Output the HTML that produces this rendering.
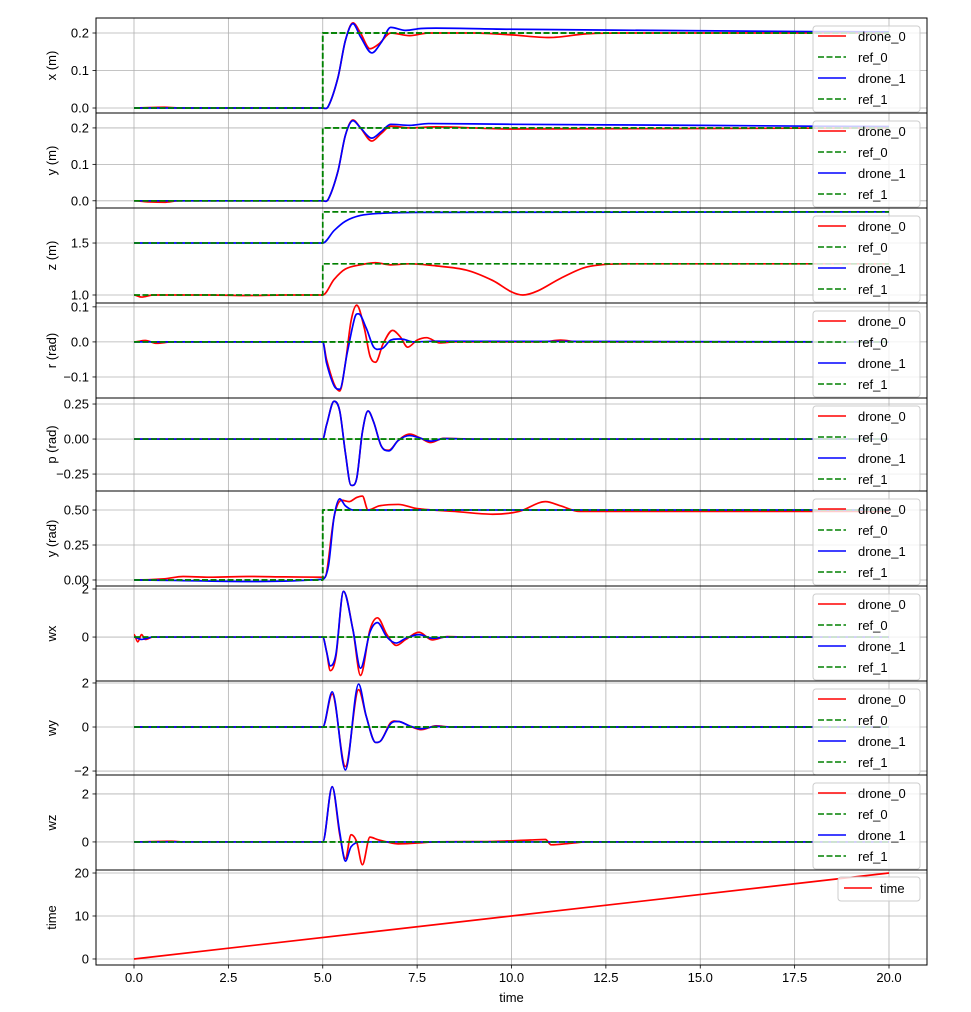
<!DOCTYPE html>
<html><head><meta charset="utf-8">
<style>
body{margin:0;background:#fff;}
svg text{font-family:"Liberation Sans",sans-serif;font-size:13px;fill:#000;}
</style></head>
<body>
<svg id="chart" width="971" height="1007" xmlns="http://www.w3.org/2000/svg"></svg>
<script>
// ---------- data ----------
const xTicks = [0,2.5,5,7.5,10,12.5,15,17.5,20];
const xTickLabels = ["0.0","2.5","5.0","7.5","10.0","12.5","15.0","17.5","20.0"];

const xDrone0 = [[0,0],[0.8,0.002],[1.2,0],[5,0],[5.15,0.005],[5.4,0.08],[5.6,0.18],[5.8,0.227],[6.0,0.2],[6.25,0.158],[6.5,0.172],[6.8,0.2],[7.3,0.193],[7.8,0.2],[9,0.2],[10,0.195],[11,0.188],[12,0.198],[13,0.2],[20,0.2]];
const xDrone1 = [[0,0],[5,0],[5.15,0.005],[5.4,0.08],[5.6,0.18],[5.8,0.225],[6.0,0.19],[6.3,0.147],[6.55,0.175],[6.8,0.215],[7.2,0.207],[7.6,0.212],[8,0.213],[10,0.21],[15,0.206],[20,0.203]];
const xRef0 = [[0,0],[5,0],[5,0.2],[20,0.2]];
const xRef1 = [[0,0],[5,0],[5,0.2],[20,0.2]];

const yDrone0 = [[0,0],[0.4,-0.003],[0.8,-0.004],[1.2,0],[5,0],[5.15,0.005],[5.4,0.08],[5.6,0.18],[5.8,0.222],[6.0,0.2],[6.3,0.164],[6.55,0.185],[6.8,0.205],[7.3,0.2],[8,0.203],[10,0.197],[20,0.2]];
const yDrone1 = [[0,0],[5,0],[5.15,0.005],[5.4,0.08],[5.6,0.18],[5.8,0.22],[6.0,0.2],[6.3,0.172],[6.55,0.19],[6.8,0.21],[7.3,0.207],[7.8,0.212],[10,0.21],[15,0.207],[20,0.204]];
const yRef0 = [[0,0],[5,0],[5,0.2],[20,0.2]];
const yRef1 = [[0,0],[5,0],[5,0.2],[20,0.2]];

const zDrone0 = [[0,1.0],[0.2,0.98],[0.5,1.0],[2,1.0],[3,0.995],[4,1.0],[5,1.0],[5.3,1.15],[5.6,1.25],[6,1.29],[6.4,1.31],[6.8,1.29],[7.3,1.3],[8,1.28],[8.8,1.24],[9.5,1.14],[10,1.03],[10.3,1.0],[10.7,1.04],[11.3,1.16],[12,1.27],[13,1.3],[20,1.3]];
const zDrone1 = [[0,1.5],[5,1.5],[5.3,1.62],[5.6,1.71],[6,1.765],[6.5,1.785],[7.5,1.795],[20,1.8]];
const zRef0 = [[0,1.0],[5,1.0],[5,1.3],[20,1.3]];
const zRef1 = [[0,1.5],[5,1.5],[5,1.8],[20,1.8]];

const rDrone0 = [[0,0],[0.3,0.004],[0.6,-0.004],[1,0],[5,0],[5.1,-0.05],[5.3,-0.12],[5.45,-0.14],[5.6,-0.06],[5.75,0.06],[5.9,0.105],[6.1,0.04],[6.25,-0.04],[6.4,-0.058],[6.6,-0.005],[6.85,0.033],[7.05,0.015],[7.25,-0.015],[7.5,0.005],[7.75,0.012],[8.1,-0.003],[8.5,0],[10.8,0],[11.3,0.005],[11.8,0],[20,0]];
const rDrone1 = [[0,0],[5,0],[5.1,-0.06],[5.3,-0.125],[5.45,-0.135],[5.65,-0.03],[5.85,0.07],[5.95,0.08],[6.15,0.04],[6.35,-0.015],[6.55,-0.02],[6.8,0.005],[7.1,0.008],[7.4,0],[8,0.002],[20,0]];
const rRef0 = [[0,0],[20,0]];
const rRef1 = [[0,0],[20,0]];

const pDrone0 = [[0,0],[5,0],[5.1,0.1],[5.3,0.27],[5.45,0.2],[5.6,-0.1],[5.75,-0.33],[5.9,-0.28],[6.05,0.05],[6.2,0.2],[6.35,0.12],[6.55,-0.05],[6.75,-0.08],[7,-0.01],[7.3,0.035],[7.6,0.005],[7.85,-0.025],[8.2,0.005],[9,0],[20,0]];
const pDrone1 = [[0,0],[5,0],[5.1,0.1],[5.3,0.27],[5.45,0.2],[5.6,-0.1],[5.75,-0.33],[5.9,-0.28],[6.05,0.05],[6.2,0.2],[6.35,0.12],[6.55,-0.05],[6.75,-0.085],[7,-0.01],[7.3,0.025],[7.6,0.005],[7.85,-0.015],[8.2,0.003],[9,0],[20,0]];
const pRef0 = [[0,0],[20,0]];
const pRef1 = [[0,0],[20,0]];

const yawDrone0 = [[0,0],[0.8,0.008],[1.3,0.025],[2,0.02],[3,0.025],[4,0.022],[5,0.02],[5.1,0.05],[5.3,0.45],[5.5,0.57],[5.7,0.56],[5.9,0.59],[6.05,0.6],[6.2,0.5],[6.5,0.53],[7,0.54],[7.5,0.51],[8.5,0.49],[9.5,0.47],[10.2,0.49],[10.9,0.56],[11.3,0.53],[11.8,0.49],[20,0.49]];
const yawDrone1 = [[0,0],[5,0.005],[5.15,0.1],[5.3,0.45],[5.45,0.58],[5.6,0.53],[5.8,0.5],[20,0.5]];
const yawRef0 = [[0,0],[5,0],[5,0.5],[20,0.5]];
const yawRef1 = [[0,0],[5,0],[5,0.5],[20,0.5]];

const wxDrone0 = [[0,0.1],[0.1,-0.2],[0.2,0.1],[0.3,-0.1],[0.5,0],[5,0],[5.1,-0.6],[5.2,-1.4],[5.35,-0.8],[5.55,1.9],[5.8,0.3],[6.0,-1.6],[6.25,0.3],[6.45,0.8],[6.7,0.1],[6.95,-0.35],[7.2,-0.1],[7.55,0.2],[7.9,-0.12],[8.3,0.02],[8.8,0],[20,0]];
const wxDrone1 = [[0,0],[0.2,-0.1],[0.5,0],[5,0],[5.1,-0.6],[5.2,-1.2],[5.35,-0.7],[5.55,1.9],[5.8,0.3],[6.0,-1.3],[6.25,0.2],[6.45,0.6],[6.7,0.0],[6.95,-0.25],[7.2,-0.05],[7.55,0.1],[7.9,-0.05],[8.3,0],[20,0]];
const wxRef0 = [[0,0],[20,0]];
const wxRef1 = [[0,0],[20,0]];

const wyDrone0 = [[0,0],[5,0],[5.25,1.5],[5.6,-1.8],[5.95,1.7],[6.15,0.5],[6.4,-0.7],[6.55,-0.6],[6.8,0.2],[7.0,0.25],[7.3,0.05],[7.6,-0.12],[8,0.05],[8.4,0],[20,0]];
const wyDrone1 = [[0,0],[5,0],[5.25,1.6],[5.6,-1.95],[5.95,1.95],[6.15,0.5],[6.4,-0.7],[6.55,-0.6],[6.8,0.15],[7.0,0.25],[7.3,0.05],[7.6,-0.08],[8,0.03],[8.4,0],[20,0]];
const wyRef0 = [[0,0],[20,0]];
const wyRef1 = [[0,0],[20,0]];

const wzDrone0 = [[0,0],[1,0.03],[1.3,0],[5,0],[5.25,2.3],[5.45,0.3],[5.6,-0.7],[5.75,0.3],[5.9,0],[6.05,-0.95],[6.25,0.2],[6.45,0.1],[6.7,0],[7,-0.08],[8,0],[9.5,0.02],[10.5,0.08],[10.9,0.1],[11.05,-0.12],[11.6,-0.05],[12,0],[20,0]];
const wzDrone1 = [[0,0],[5,0],[5.25,2.3],[5.45,0.4],[5.6,-0.8],[5.75,-0.2],[6,0],[20,0]];
const wzRef0 = [[0,0],[20,0]];
const wzRef1 = [[0,0],[20,0]];

const timeSeries = [[0,0],[20,20]];

// ---------- layout ----------
const svg = document.getElementById('chart');
const NS = 'http://www.w3.org/2000/svg';
const L = 96, R = 927;
const X0PX = 134, XSCALE = 37.75;
function sx(t){ return X0PX + t*XSCALE; }

function mk(tag, attrs, parent){
  const e = document.createElementNS(NS, tag);
  for (const k in attrs) e.setAttribute(k, attrs[k]);
  (parent||svg).appendChild(e);
  return e;
}

// smooth path through points (Hermite with finite-difference tangents in data domain)
function smoothPath(pts, sy){
  const n = pts.length;
  const P = pts.map(p => [sx(p[0]), sy(p[1])]);
  if (n < 3) return P.map((p,k)=>(k?'L':'M')+p[0].toFixed(2)+','+p[1].toFixed(2)).join('');
  const m = P.map((p,k) => {
    if (k === 0 || k === n-1) return 0;
    const dx = P[k+1][0]-P[k-1][0];
    const sl = dx ? (P[k+1][1]-P[k-1][1])/dx : 0;
    // flatten if local extremum between flat segments
    const d1 = P[k][1]-P[k-1][1], d2 = P[k+1][1]-P[k][1];
    if (d1*d2 <= 0) return 0;
    return sl;
  });
  let d = 'M'+P[0][0].toFixed(2)+','+P[0][1].toFixed(2);
  for (let k=0;k<n-1;k++){
    const h = P[k+1][0]-P[k][0];
    const c1x = P[k][0]+h/3, c1y = P[k][1]+m[k]*h/3;
    const c2x = P[k+1][0]-h/3, c2y = P[k+1][1]-m[k+1]*h/3;
    d += 'C'+c1x.toFixed(2)+','+c1y.toFixed(2)+' '+c2x.toFixed(2)+','+c2y.toFixed(2)+' '+P[k+1][0].toFixed(2)+','+P[k+1][1].toFixed(2);
  }
  return d;
}

const panels = [
  {name:'x', label:'x (m)', top:18, bot:113, vmin:-0.0133, vmax:0.24, ticks:[0,0.1,0.2], tl:["0.0","0.1","0.2"], series:[xDrone0,xRef0,xDrone1,xRef1]},
  {name:'y', label:'y (m)', top:113, bot:208, vmin:-0.0198, vmax:0.241, ticks:[0,0.1,0.2], tl:["0.0","0.1","0.2"], series:[yDrone0,yRef0,yDrone1,yRef1]},
  {name:'z', label:'z (m)', top:208, bot:303, vmin:0.923, vmax:1.837, ticks:[1.0,1.5], tl:["1.0","1.5"], series:[zDrone0,zRef0,zDrone1,zRef1]},
  {name:'roll', label:'r (rad)', top:303, bot:398, vmin:-0.160, vmax:0.111, ticks:[-0.1,0,0.1], tl:["\u22120.1","0.0","0.1"], series:[rDrone0,rRef0,rDrone1,rRef1]},
  {name:'pitch', label:'p (rad)', top:398, bot:491, vmin:-0.371, vmax:0.293, ticks:[-0.25,0,0.25], tl:["\u22120.25","0.00","0.25"], series:[pDrone0,pRef0,pDrone1,pRef1]},
  {name:'yaw', label:'y (rad)', top:491, bot:586, vmin:-0.043, vmax:0.636, ticks:[0,0.25,0.5], tl:["0.00","0.25","0.50"], series:[yawDrone0,yawRef0,yawDrone1,yawRef1]},
  {name:'wx', label:'wx', top:586, bot:681, vmin:-1.83, vmax:2.125, ticks:[0,2], tl:["0","2"], series:[wxDrone0,wxRef0,wxDrone1,wxRef1]},
  {name:'wy', label:'wy', top:681, bot:775, vmin:-2.18, vmax:2.09, ticks:[-2,0,2], tl:["\u22122","0","2"], series:[wyDrone0,wyRef0,wyDrone1,wyRef1]},
  {name:'wz', label:'wz', top:775, bot:870, vmin:-1.17, vmax:2.79, ticks:[0,2], tl:["0","2"], series:[wzDrone0,wzRef0,wzDrone1,wzRef1]},
  {name:'time', label:'time', top:870, bot:965, vmin:-1.4, vmax:20.7, ticks:[0,10,20], tl:["0","10","20"], series:[timeSeries]}
];
const styles = [
  {c:'#ff0000', d:null, n:'drone_0'},
  {c:'#008000', d:'6,2.5', n:'ref_0'},
  {c:'#0000ff', d:null, n:'drone_1'},
  {c:'#008000', d:'6,2.5', n:'ref_1'}
];

panels.forEach((p, pi) => {
  const g = mk('g', {});
  
  
  const sy = v => p.bot - (v - p.vmin) / (p.vmax - p.vmin) * (p.bot - p.top);
  const cid = 'clip' + pi;
  const cp = mk('clipPath', {id: cid}, g);
  mk('rect', {x: L, y: p.top, width: R - L, height: p.bot - p.top}, cp);
  mk('rect', {x: L, y: p.top, width: R - L, height: p.bot - p.top, fill: '#fff'}, g);
  xTicks.forEach(t => {
    const gl = mk('line', {x1: sx(t), x2: sx(t), y1: p.top, y2: p.bot, stroke: '#b0b0b0', 'stroke-width': 0.8}, g);
    
    
  });
  p.ticks.forEach((v, i) => {
    const y = sy(v);
    const gl = mk('line', {x1: L, x2: R, y1: y, y2: y, stroke: '#b0b0b0', 'stroke-width': 0.8}, g);
    
    
    mk('line', {x1: L - 3.5, x2: L, y1: y, y2: y, stroke: '#000', 'stroke-width': 0.8}, g);
    const tx = mk('text', {x: L - 7, y: y + 4.5, 'text-anchor': 'end'}, g);
    tx.textContent = p.tl[i];
    
    
  });
  const sg = mk('g', {'clip-path': 'url(#' + cid + ')'}, g);
  p.series.forEach((s, si) => {
    const st = p.name === 'time' ? {c: '#ff0000', d: null, n: 'time'} : styles[si];
    const d = st.d ? s.map((pt, k) => (k ? 'L' : 'M') + sx(pt[0]).toFixed(2) + ',' + sy(pt[1]).toFixed(2)).join('') : smoothPath(s, sy);
    const path = mk('path', {d: d, fill: 'none', stroke: st.c, 'stroke-width': 1.7, 'stroke-linejoin': 'round'}, sg);
    if (st.d) path.setAttribute('stroke-dasharray', st.d);
    
    
  });
  const cy = (p.top + p.bot) / 2;
  const yl = mk('text', {x: 56, y: cy, 'text-anchor': 'middle', transform: 'rotate(-90 56 ' + cy + ')'}, g);
  yl.textContent = p.label;
  
  
  mk('rect', {x: L, y: p.top, width: R - L, height: p.bot - p.top, fill: 'none', stroke: '#000', 'stroke-width': 1}, g);
  const lg = mk('g', {}, g);
  
  
  if (p.name === 'time') {
    mk('rect', {x: 838, y: 877, width: 82, height: 24, rx: 3, fill: '#fff', 'fill-opacity': 0.8, stroke: '#ccc'}, lg);
    mk('line', {x1: 844, x2: 872, y1: 888, y2: 888, stroke: '#ff0000', 'stroke-width': 1.5}, lg);
    const t = mk('text', {x: 880, y: 893}, lg);
    t.textContent = 'time';
    
    
  } else {
    const ly = p.top + 8;
    mk('rect', {x: 813, y: ly, width: 107, height: 86, rx: 3, fill: '#fff', 'fill-opacity': 0.8, stroke: '#ccc'}, lg);
    styles.forEach((st, k) => {
      const yy = ly + 10 + k * 21;
      const ln = mk('line', {x1: 818, x2: 846, y1: yy, y2: yy, stroke: st.c, 'stroke-width': 1.5}, lg);
      if (st.d) ln.setAttribute('stroke-dasharray', st.d);
      const t = mk('text', {x: 858, y: yy + 5}, lg);
      t.textContent = st.n;
      
      
    });
  }
  if (p.name === 'time') {
    xTicks.forEach((t, i) => {
      mk('line', {x1: sx(t), x2: sx(t), y1: p.bot, y2: p.bot + 3.5, stroke: '#000', 'stroke-width': 0.8}, g);
      const tx = mk('text', {x: sx(t), y: p.bot + 17, 'text-anchor': 'middle'}, g);
      tx.textContent = xTickLabels[i];
      
      
    });
    const xl = mk('text', {x: (L + R) / 2, y: 1002, 'text-anchor': 'middle'}, g);
    xl.textContent = 'time';
    
    
  }
});
</script>
</body></html>
